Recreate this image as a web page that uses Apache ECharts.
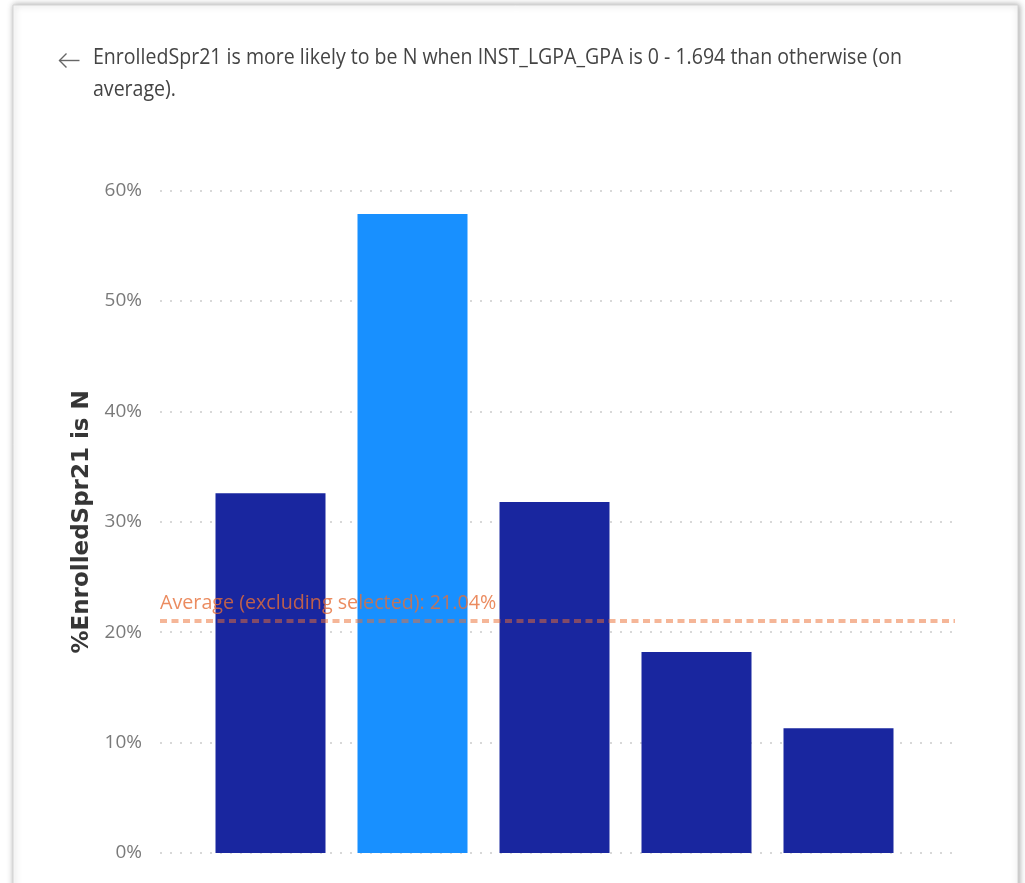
<!DOCTYPE html>
<html>
<head>
<meta charset="utf-8">
<script src="https://cdn.jsdelivr.net/npm/echarts@6/dist/echarts.min.js"></script>
<style>
  html, body { margin: 0; padding: 0; background: #ffffff; }
  #chart { width: 1025px; height: 883px; }
</style>
</head>
<body>
<div id="chart"></div>
<script>
// GPA ranges and share of students not enrolled in Spring 21 (percent)
const categories = ['(Blank)', '0 - 1.694', 'Range 3', 'Range 4', 'Range 5'];
const pctNotEnrolled = [32.6, 57.9, 31.8, 18.2, 11.3];
const selectedIndex = 1;
const averageExcludingSelected = 21.04;
const yTicks = { min: 0, max: 60, interval: 10 };

const titleLines = [
  'EnrolledSpr21 is more likely to be N when INST_LGPA_GPA is 0 - 1.694 than otherwise (on',
  'average).'
];
const axisTitle = '%EnrolledSpr21 is N';
const avgLabel = 'Average (excluding selected): ' + averageExcludingSelected.toFixed(2) + '%';

const DARK = '#19269f';
const LIGHT = '#1890ff';
const FONT = '"Open Sans", "Noto Sans", sans-serif';

// narrow the heading so its first line fills the text column
const TITLE_FONT = '21px "Open Sans"';
const ctx = document.createElement('canvas').getContext('2d');
ctx.font = TITLE_FONT;
const titleScale = 809 / ctx.measureText(titleLines[0]).width;

const chart = echarts.init(document.getElementById('chart'), null, { renderer: 'canvas' });

const gridTop = 190.7;
const gridBottom = 30;

chart.setOption({
  animation: false,
  backgroundColor: '#ffffff',
  graphic: [
    {
      type: 'rect', z: -10,
      shape: { x: 13, y: 5, width: 1005, height: 900 },
      style: {
        fill: '#ffffff', stroke: '#d4d4d4', lineWidth: 1,
        shadowBlur: 6, shadowColor: 'rgba(0,0,0,0.35)', shadowOffsetX: 1, shadowOffsetY: 0
      }
    },
    {
      type: 'group', left: 57, top: 51,
      children: [
        { type: 'line', shape: { x1: 0, y1: 7, x2: 20, y2: 7 }, style: { stroke: '#666', lineWidth: 1.4 } },
        { type: 'polyline', shape: { points: [[7, 0], [0, 7], [7, 14]] }, style: { stroke: '#666', lineWidth: 1.4, fill: null } }
      ]
    },
    {
      type: 'text', x: 93, y: 42, scaleX: titleScale,
      style: {
        text: titleLines.join('\n'),
        font: TITLE_FONT,
        fill: '#444444',
        lineHeight: 32
      }
    }
  ],
  grid: [
    { left: 199.5, right: 115.5, top: gridTop, bottom: gridBottom },
    { left: 160, right: 70, top: gridTop, bottom: gridBottom }
  ],
  xAxis: [
    {
      type: 'category', gridIndex: 0, data: categories,
      axisLine: { show: false }, axisTick: { show: false }, axisLabel: { show: false }
    },
    {
      type: 'value', gridIndex: 1, min: 0, max: 1, show: false
    }
  ],
  yAxis: [
    {
      type: 'value', gridIndex: 0, min: yTicks.min, max: yTicks.max, interval: yTicks.interval,
      show: false
    },
    {
      type: 'value', gridIndex: 1, min: yTicks.min, max: yTicks.max, interval: yTicks.interval,
      axisLine: { show: false }, axisTick: { show: false },
      axisLabel: {
        formatter: '{value}%', margin: 18,
        color: '#7a7a7a', fontSize: 19, fontFamily: FONT
      },
      splitLine: { lineStyle: { color: '#cccccc', width: 1.5, type: [2, 8] } },
      name: axisTitle, nameLocation: 'middle', nameGap: 66, nameRotate: 90,
      nameTextStyle: { color: '#363636', fontSize: 23, fontWeight: 'bold', fontFamily: '"DejaVu Sans", sans-serif' }
    }
  ],
  series: [
    {
      type: 'bar', xAxisIndex: 0, yAxisIndex: 0, barWidth: 110,
      data: pctNotEnrolled.map((v, i) => ({
        value: v,
        itemStyle: { color: i === selectedIndex ? LIGHT : DARK }
      })),
      z: 2
    },
    {
      type: 'line', xAxisIndex: 1, yAxisIndex: 1, data: [], z: 5,
      markLine: {
        silent: true, symbol: 'none',
        lineStyle: { color: 'rgba(236,110,50,0.5)', width: 4, type: [7, 4.5] },
        label: {
          show: true, position: 'insideStartTop', distance: [0, 7],
          formatter: avgLabel,
          color: 'rgba(230,110,55,0.8)', fontSize: 19.7, fontFamily: FONT
        },
        data: [{ yAxis: averageExcludingSelected }]
      }
    }
  ]
});
</script>
</body>
</html>
